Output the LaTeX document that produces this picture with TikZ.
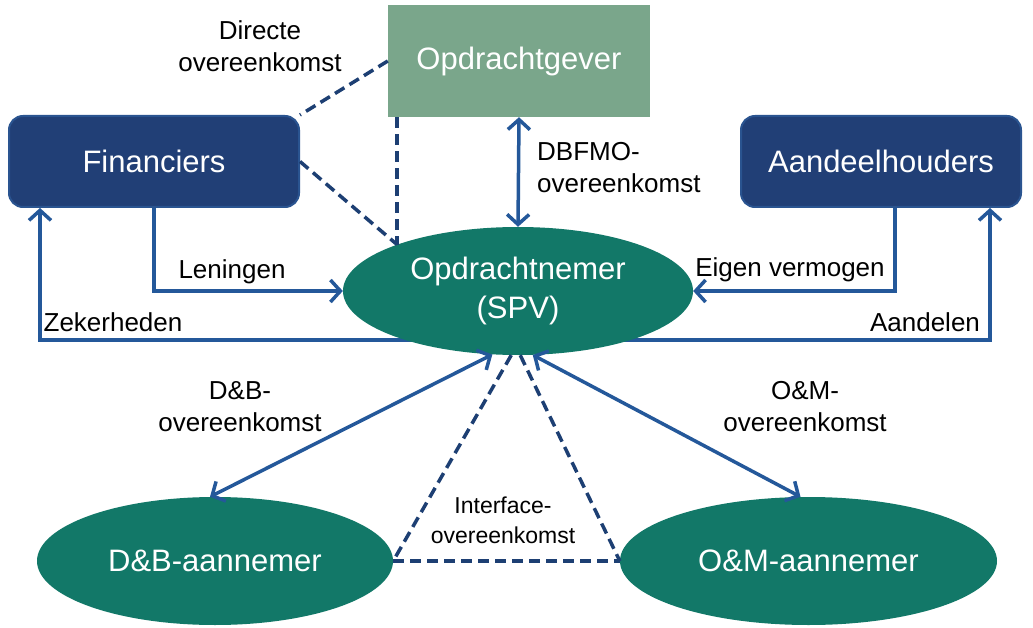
\documentclass[tikz,border=0pt]{standalone}
\usepackage{fontspec}
\setmainfont{Liberation Sans}
\usetikzlibrary{shapes.geometric,arrows.meta,calc}
\definecolor{ogreen}{HTML}{7AA68B}
\definecolor{dblue}{HTML}{213F76}
\definecolor{bordblue}{HTML}{2A5490}
\definecolor{teal}{HTML}{127868}
\definecolor{arrblue}{HTML}{24589A}
\definecolor{dashblue}{HTML}{1D3F73}
\pgfdeclarelayer{background}
\pgfsetlayers{background,main}
\tikzset{
  boxtext/.style={text=white,font=\fontsize{31}{37}\selectfont,align=center,inner sep=0pt},
  greenbox/.style={boxtext,rectangle,fill=ogreen,minimum width=262pt,minimum height=112pt},
  bluebox/.style={boxtext,rectangle,rounded corners=14pt,fill=dblue,draw=bordblue,line width=2pt,minimum width=290pt,minimum height=91pt},
  tealell/.style={boxtext,ellipse,fill=teal,minimum width=350pt,minimum height=128pt},
  lbl/.style={text=black,font=\fontsize{26}{32}\selectfont,align=center,inner sep=0pt},
  arr/.style={draw=arrblue,line width=3.5pt,arrows={-Straight Barb[length=10pt,width=22pt]}},
  darr/.style={draw=arrblue,line width=3.5pt,arrows={Straight Barb[length=10pt,width=22pt]-Straight Barb[length=10pt,width=22pt]}},
  dline/.style={draw=dashblue,line width=3.5pt,dash pattern=on 11pt off 6pt},
}
\begin{document}
\begin{tikzpicture}[x=1pt,y=-1pt]
\useasboundingbox (0,0) rectangle (1033,628);
\begin{pgfonlayer}{background}
\fill[white] (0,0) rectangle (1033,628);
\end{pgfonlayer}
% nodes
\node[greenbox] (og) at (519,61) {Opdrachtgever};
\node[bluebox] (fin) at (154,161.5) {Financiers};
\node[bluebox,minimum width=280pt] (aan) at (881,161.5) {Aandeelhouders};
\node[tealell] (spv) at (518,291) {Opdrachtnemer\\[2pt](SPV)};
\node[tealell,minimum width=356pt] (db) at (215,561) {D\&B-aannemer};
\node[tealell,minimum width=377pt] (om) at (808.5,561) {O\&M-aannemer};
% labels
\node[lbl] (l1) at (260,46) {Directe\\overeenkomst};
\node[lbl,align=left,anchor=west] (l2) at (537,168) {DBFMO-\\overeenkomst};
\node[lbl] (l3) at (232,272) {Leningen};
\node[lbl] (l4) at (113,322) {Zekerheden};
\node[lbl] (l5) at (790,270) {Eigen vermogen};
\node[lbl] (l6) at (925,322) {Aandelen};
\node[lbl] (l7) at (240,407) {D\&B-\\overeenkomst};
\node[lbl] (l8) at (805,407) {O\&M-\\overeenkomst};
\node[lbl,font=\fontsize{23}{30}\selectfont] (l9) at (503,520) {Interface-\\overeenkomst};
% dashed connections
\coordinate (sp) at (spv.159);
\draw[dline] (og.west) -- (fin.north east);
\draw[dline] (fin.east) -- (sp);
\draw[dline] (sp |- og.south) -- (sp);
\draw[dline] (spv.264) -- (db.east);
\draw[dline] (spv.272) -- (om.west);
\draw[dline] (db.east) -- (om.west);
% solid arrows
\draw[darr] (og.south) -- (spv.north);
\draw[arr] (fin.south) |- (spv.west);
\draw[arr] ([xshift=14pt]aan.south) |- (spv.east);
\begin{pgfonlayer}{background}
\draw[arr] ([yshift=-49pt]spv.center) -| ([xshift=32pt]fin.south west);
\draw[arr] ([yshift=-49pt]spv.center) -| ([xshift=-32pt]aan.south east);
\end{pgfonlayer}
\draw[darr] (spv.248) -- ([xshift=-5pt]db.north);
\draw[darr] (spv.283) -- ([xshift=-8pt]om.north);
\end{tikzpicture}
\end{document}
